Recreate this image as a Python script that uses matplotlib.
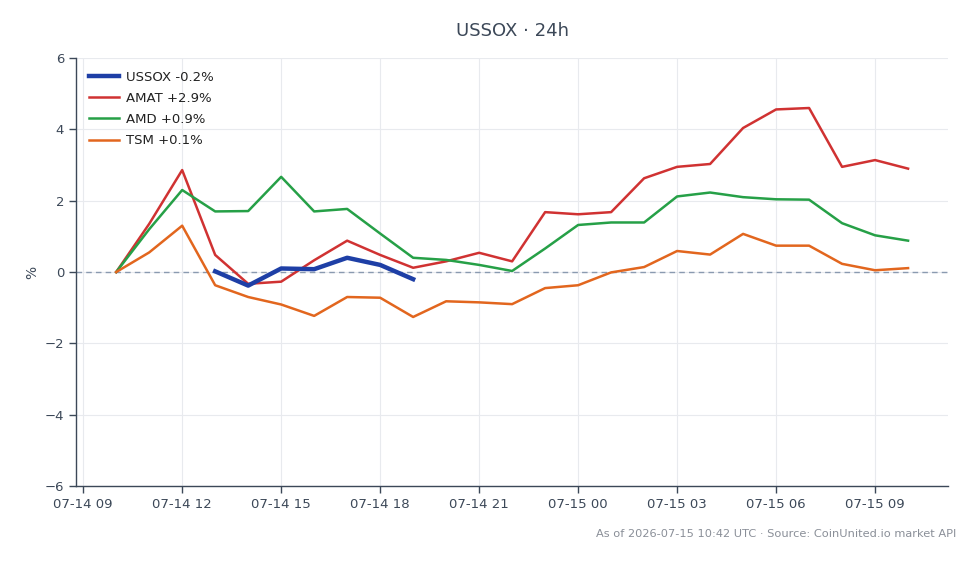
import matplotlib
matplotlib.use("Agg")
import matplotlib.pyplot as plt
import matplotlib.dates as mdates
import pandas as pd

times = pd.date_range("2026-07-14 10:00", "2026-07-15 10:00", freq="h")

ussox_times = pd.date_range("2026-07-14 13:00", "2026-07-14 19:00", freq="h")
ussox = [0.02, -0.38, 0.10, 0.08, 0.40, 0.20, -0.20]

amat = [0.0, 1.35, 2.86, 0.48, -0.33, -0.27, 0.33, 0.88, 0.48, 0.12, 0.30, 0.54, 0.30,
        1.68, 1.62, 1.68, 2.63, 2.95, 3.03, 4.04, 4.56, 4.60, 2.95, 3.14, 2.90]
amd = [0.0, 1.20, 2.30, 1.70, 1.71, 2.67, 1.70, 1.77, 1.08, 0.40, 0.34, 0.20, 0.03,
       0.66, 1.32, 1.39, 1.39, 2.12, 2.23, 2.10, 2.04, 2.03, 1.37, 1.03, 0.88]
tsm = [0.0, 0.55, 1.30, -0.37, -0.70, -0.91, -1.23, -0.70, -0.72, -1.26, -0.82, -0.85, -0.90,
       -0.45, -0.37, -0.01, 0.14, 0.59, 0.49, 1.07, 0.74, 0.74, 0.23, 0.05, 0.11]

labels = ["USSOX -0.2%", "AMAT +2.9%", "AMD +0.9%", "TSM +0.1%"]
colors = ["#1e3fa6", "#d03232", "#26a047", "#e2661e"]
title = "USSOX · 24h"
footer = "As of 2026-07-15 10:42 UTC · Source: CoinUnited.io market API"

text_color = "#3c4858"
fig = plt.figure(figsize=(9.8, 5.64), dpi=100)
ax = fig.add_axes([0.0776, 0.1383, 0.8894, 0.7587])

ax.plot(ussox_times, ussox, color=colors[0], lw=3.2, label=labels[0], zorder=5)
ax.plot(times, amat, color=colors[1], lw=1.8, label=labels[1], zorder=4)
ax.plot(times, amd, color=colors[2], lw=1.8, label=labels[2], zorder=4)
ax.plot(times, tsm, color=colors[3], lw=1.8, label=labels[3], zorder=4)
ax.axhline(0, color="#8a9ab0", lw=1.0, ls=(0, (4, 3)), zorder=2)

ax.set_ylim(-6, 6)
ax.set_yticks([-6, -4, -2, 0, 2, 4, 6])
ax.set_yticklabels(["\u22126", "\u22124", "\u22122", "0", "2", "4", "6"])
ax.set_xlim(pd.Timestamp("2026-07-14 08:47"), pd.Timestamp("2026-07-15 11:12"))
ax.xaxis.set_major_locator(mdates.HourLocator(byhour=[0, 3, 6, 9, 12, 15, 18, 21]))
ax.xaxis.set_major_formatter(mdates.DateFormatter("%m-%d %H"))

ax.grid(True, color="#e8eaee", lw=0.8, zorder=0)
for s in ["top", "right"]:
    ax.spines[s].set_visible(False)
for s in ["left", "bottom"]:
    ax.spines[s].set_color("#3c4858")
    ax.spines[s].set_linewidth(1.0)
ax.tick_params(colors=text_color, labelsize=9.5, length=5, width=1.0)
ax.set_ylabel("%", color=text_color, fontsize=10)

leg = ax.legend(loc="upper left", frameon=False, fontsize=9.5, handlelength=2.3,
                labelspacing=0.62, borderaxespad=0.55, handletextpad=0.5)
for t in leg.get_texts():
    t.set_color("#222222")

fig.text(0.523, 0.945, title, ha="center", va="center", fontsize=13, color=text_color)
fig.text(0.976, 0.053, footer, ha="right", va="center", fontsize=8.2, color="#8a8f98")

fig.savefig("out.png", dpi=100)
